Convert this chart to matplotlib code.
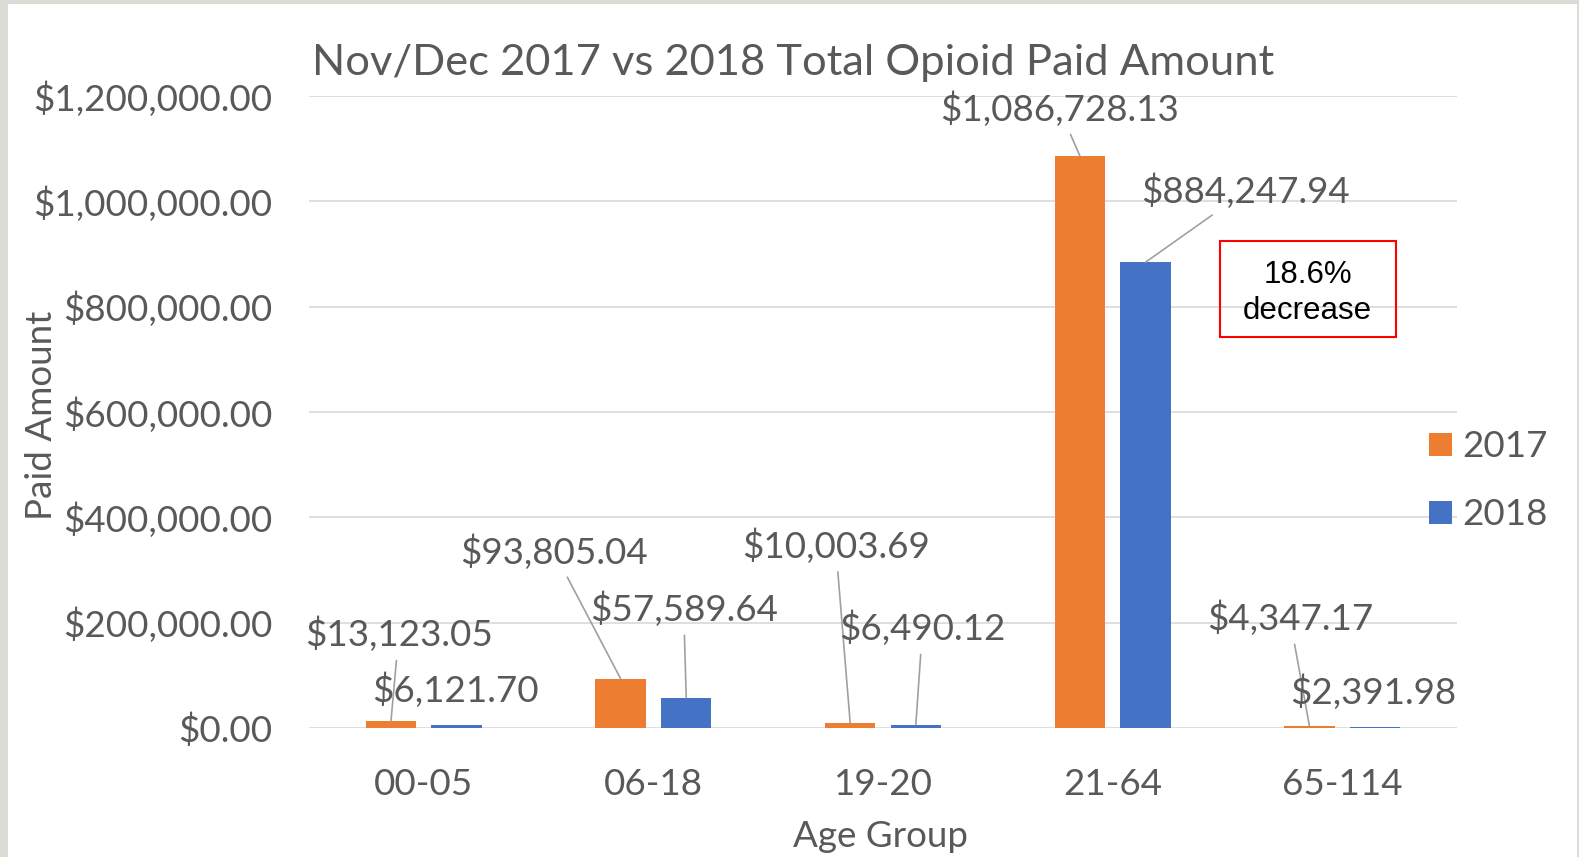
import numpy as np
import matplotlib
matplotlib.use('Agg')
import matplotlib.pyplot as plt
from matplotlib.patches import Rectangle
from matplotlib.ticker import FuncFormatter

# data
age_groups = ['00-05', '06-18', '19-20', '21-64', '65-114']
paid_2017 = [13123.05, 93805.04, 10003.69, 1086728.13, 4347.17]
paid_2018 = [6121.70, 57589.64, 6490.12, 884247.94, 2391.98]

# label positions (x in category units, y in $)
lab_2017_x = [-0.109, 0.567, 1.794, 2.768, 3.772]
lab_2017_y = [177700, 334600, 346000, 1175700, 208300]
lab_2018_x = [0.137, 1.132, 2.172, 3.580, 4.136]
lab_2018_y = [72500, 225600, 189100, 1019000, 68700]
leader_2017 = [True, True, True, True, True]
leader_2018 = [False, True, True, True, False]

orange = '#ED7D31'
blue = '#4472C4'
txt = '#595959'
grid_c = '#D9D9D9'
fs = 26.5

plt.rcParams['font.family'] = ['Lato', 'DejaVu Sans']

W, H = 1579, 857
fig = plt.figure(figsize=(W / 100, H / 100), dpi=100)
fig.patch.set_facecolor('#DCDCD7')
fig.patches.append(Rectangle((8 / W, 0), (1577 - 8) / W, (H - 4) / H,
                             transform=fig.transFigure, facecolor='white',
                             edgecolor='none', zorder=-10))

ax = fig.add_axes([309 / W, 1 - 728 / H, 1148 / W, 632 / H])
ax.set_facecolor('none')
ax.set_zorder(1)

x = np.arange(len(age_groups))
bw = 0.22
off = 0.143
ax.bar(x - off, paid_2017, bw, color=orange, label='2017', zorder=3)
ax.bar(x + off, paid_2018, bw, color=blue, label='2018', zorder=3)

ax.set_xlim(-0.5, 4.5)
ax.set_ylim(0, 1200000)
ax.set_yticks(np.arange(0, 1200001, 200000))
ax.yaxis.set_major_formatter(FuncFormatter(lambda v, p: '${:,.2f}'.format(v)))
ax.set_xticks(x)
ax.set_xticklabels(age_groups)
ax.tick_params(axis='both', length=0, labelsize=fs, colors=txt)
ax.tick_params(axis='y', pad=26.5)
ax.tick_params(axis='x', pad=29)
ax.grid(axis='y', color=grid_c, linewidth=1.2, zorder=0)
for s in ax.spines.values():
    s.set_visible(False)

# data labels with leader lines
def put_labels(vals, xs, ys, leaders, shift):
    for i, v in enumerate(vals):
        kw = {}
        if leaders[i]:
            kw['arrowprops'] = dict(arrowstyle='-', color='#A0A0A0', lw=1.2,
                                    shrinkA=4, shrinkB=0)
        ax.annotate('${:,.2f}'.format(v), xy=(i + shift, v), xytext=(xs[i], ys[i]),
                    textcoords='data', ha='center', va='center', fontsize=fs,
                    color=txt, zorder=5, **kw)

put_labels(paid_2017, lab_2017_x, lab_2017_y, leader_2017, -off)
put_labels(paid_2018, lab_2018_x, lab_2018_y, leader_2018, off)

ax.set_ylabel('Paid Amount', fontsize=fs, color=txt)
ax.yaxis.set_label_coords(-0.219, 0.495)
ax.set_xlabel('Age Group', fontsize=fs, color=txt)
ax.xaxis.set_label_coords(0.498, -0.171)
ax.xaxis.label.set_va('center')

fig.text(312 / W, 1 - 63 / H, 'Nov/Dec 2017 vs 2018 Total Opioid Paid Amount',
         fontsize=31.3, color=txt, ha='left', va='center')

# callout box
fig.patches.append(Rectangle((1219.5 / W, 1 - 337.3 / H), 176.2 / W, 96.6 / H,
                             transform=fig.transFigure, facecolor='none',
                             edgecolor='#FF0000', linewidth=1.5, zorder=6))
fig.text(1307.6 / W, 1 - 293 / H, '18.6%\ndecrease', fontsize=22.5,
         family='Liberation Sans', color='black', ha='center', va='center',
         linespacing=1.3, zorder=7)

leg = ax.legend(loc='center left', bbox_to_anchor=(0.976, 0.391), frameon=False,
                fontsize=fs, handlelength=0.6, handleheight=0.6,
                handletextpad=0.3, labelspacing=0.95, borderaxespad=0,
                borderpad=0)
for t in leg.get_texts():
    t.set_color(txt)

fig.savefig('out.png', dpi=100)
